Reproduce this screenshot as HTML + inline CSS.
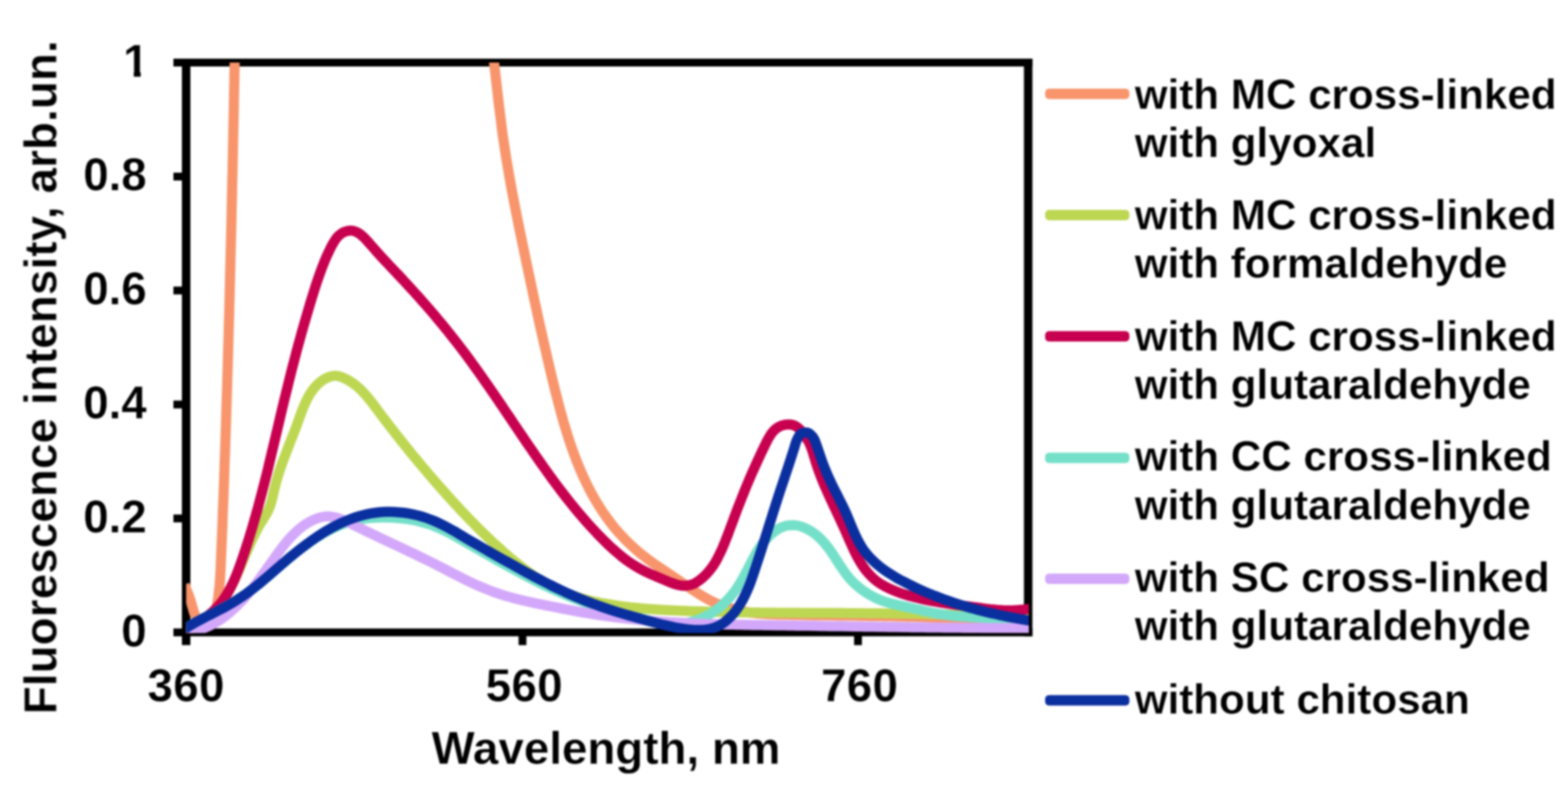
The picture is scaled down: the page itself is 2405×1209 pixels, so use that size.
<!DOCTYPE html>
<html lang="en"><head><meta charset="utf-8"><title>Fluorescence spectra</title>
<style>
html,body{margin:0;padding:0;background:#fff;}
body{width:2405px;height:1209px;overflow:hidden;}
svg{display:block;}
text{font-family:"Liberation Sans",sans-serif;font-weight:700;fill:#000;stroke:#fff;stroke-width:0.4px;paint-order:fill stroke;}
.ax{font-size:70px;}
.lg{font-size:64.7px;}
.c{fill:none;stroke-linejoin:round;stroke-linecap:butt;stroke-width:15.5px;}
.k{fill:none;stroke-linecap:round;stroke-width:16px;}
</style></head><body>
<svg width="2405" height="1209" viewBox="0 0 2405 1209">
<defs><clipPath id="pc"><rect x="285.5" y="96" width="1292.5" height="875.3"/></clipPath>
<clipPath id="one"><path d="M180 50H240V108H215.8V125H205.2V108H180Z"/></clipPath>
<filter id="bl" x="-2%" y="-2%" width="104%" height="104%" color-interpolation-filters="sRGB"><feGaussianBlur stdDeviation="1.8"/></filter></defs>
<rect width="2405" height="1209" fill="#fff"/>
<g filter="url(#bl)">
<g stroke="#000" fill="none" stroke-linecap="butt">
<path stroke-width="12" d="M266 96 H1583.5"/>
<path stroke-width="13" d="M1577 90 V976.3"/>
<path stroke-width="12" d="M266 970.3 H1583.5"/>
<path stroke-width="13" d="M285.5 96 V989.8"/>
<path stroke-width="12" d="M266 795.4 H285.5"/>
<path stroke-width="12" d="M266 620.6 H285.5"/>
<path stroke-width="12" d="M266 445.7 H285.5"/>
<path stroke-width="12" d="M266 270.9 H285.5"/>
<path stroke-width="12" d="M801.4 970.3 V989.8"/>
<path stroke-width="12" d="M1316 970.3 V989.8"/>
</g>
<g clip-path="url(#pc)">
<path class="c" stroke="#F8956C" d="M283.0 897.0 C283.8 898.9 286.2 904.8 287.6 908.5 C289.0 912.2 290.3 915.5 291.6 919.3 C292.9 923.1 293.9 927.4 295.2 931.5 C296.5 935.6 297.5 940.5 299.4 944.2 C301.3 947.9 303.7 951.9 306.7 953.9 C309.7 955.9 314.3 957.2 317.5 956.1 C320.7 955.0 323.6 950.4 325.8 947.0 C328.0 943.6 329.5 939.6 330.8 935.7 C332.1 931.8 332.9 927.7 333.7 923.6 C334.5 919.5 334.9 915.3 335.4 911.2 C335.9 907.1 336.3 903.1 336.7 899.0 C337.1 894.9 337.3 890.9 337.6 886.8 C337.9 882.7 338.1 878.6 338.3 874.5 C338.5 870.4 338.6 866.4 338.8 862.3 C339.0 858.2 339.1 854.2 339.3 850.1 C339.5 846.0 339.6 842.0 339.8 837.9 C340.0 833.8 340.1 829.7 340.3 825.6 C340.5 821.5 340.6 817.5 340.8 813.4 C341.0 809.3 341.2 805.2 341.3 801.1 C341.4 797.0 341.6 793.0 341.7 788.9 C341.8 784.8 342.0 780.7 342.2 776.6 C342.4 772.5 342.5 768.4 342.7 764.3 C342.9 760.2 343.0 756.2 343.1 752.1 C343.2 748.0 343.5 743.9 343.6 739.8 C343.8 735.7 343.9 731.6 344.0 727.5 C344.1 723.4 344.3 719.3 344.4 715.2 C344.5 711.1 344.6 707.0 344.8 702.9 C345.0 698.8 345.2 694.7 345.3 690.6 C345.4 686.5 345.6 682.4 345.7 678.3 C345.8 674.2 346.0 670.2 346.1 666.1 C346.2 662.0 346.4 657.9 346.5 653.8 C346.6 649.7 346.8 645.6 346.9 641.5 C347.0 637.4 347.1 633.3 347.2 629.2 C347.3 625.1 347.5 621.0 347.6 616.9 C347.7 612.8 347.9 608.8 348.0 604.7 C348.1 600.6 348.3 596.5 348.4 592.4 C348.5 588.3 348.6 584.2 348.7 580.1 C348.8 576.0 349.0 571.9 349.1 567.8 C349.2 563.7 349.3 559.7 349.4 555.6 C349.5 551.5 349.7 547.4 349.8 543.3 C349.9 539.2 350.0 535.1 350.1 531.0 C350.2 526.9 350.4 522.8 350.5 518.7 C350.6 514.6 350.7 510.6 350.8 506.5 C350.9 502.4 351.0 498.3 351.1 494.2 C351.2 490.1 351.4 486.0 351.5 481.9 C351.6 477.8 351.7 473.8 351.8 469.7 C351.9 465.6 352.0 461.5 352.1 457.4 C352.2 453.3 352.3 449.2 352.4 445.1 C352.5 441.0 352.6 436.9 352.7 432.8 C352.8 428.7 352.9 424.7 353.0 420.6 C353.1 416.5 353.2 412.4 353.3 408.3 C353.4 404.2 353.5 400.1 353.6 396.0 C353.7 391.9 353.8 387.9 353.9 383.8 C354.0 379.7 354.1 375.6 354.2 371.5 C354.3 367.4 354.4 363.3 354.5 359.2 C354.6 355.1 354.7 351.0 354.8 346.9 C354.9 342.8 355.0 338.8 355.1 334.7 C355.2 330.6 355.2 326.5 355.3 322.4 C355.4 318.3 355.5 314.2 355.6 310.1 C355.7 306.0 355.8 302.0 355.9 297.9 C356.0 293.8 356.0 289.7 356.1 285.6 C356.2 281.5 356.3 277.4 356.4 273.3 C356.5 269.2 356.6 265.1 356.7 261.0 C356.8 256.9 356.8 252.9 356.9 248.8 C357.0 244.7 357.1 240.6 357.2 236.5 C357.3 232.4 357.3 228.3 357.4 224.2 C357.5 220.1 357.6 216.0 357.7 211.9 C357.8 207.8 357.8 203.8 357.9 199.7 C358.0 195.6 358.1 191.5 358.2 187.4 C358.3 183.3 358.3 179.2 358.4 175.1 C358.5 171.0 358.6 166.9 358.7 162.8 C358.8 158.7 358.8 154.7 358.9 150.6 C359.0 146.5 359.0 142.4 359.1 138.3 C359.2 134.2 359.3 130.1 359.4 126.0 C359.5 121.9 359.5 117.8 359.6 113.7 C359.7 109.6 359.7 105.5 359.8 101.4 C359.9 97.3 360.0 93.2 360.1 89.1 C360.2 85.0 360.2 81.0 360.3 76.9 C360.4 72.8 360.4 68.7 360.5 64.6 C360.6 60.5 360.7 56.4 360.8 52.3 C360.9 48.2 361.0 42.0 361.0 40.0"/>
<path class="c" stroke="#F8956C" d="M751.0 40.0 C751.3 42.0 752.1 48.1 752.6 52.1 C753.1 56.1 753.6 60.2 754.1 64.2 C754.6 68.2 755.0 72.2 755.5 76.2 C756.0 80.2 756.4 84.3 756.9 88.3 C757.4 92.3 757.8 96.3 758.3 100.3 C758.8 104.3 759.2 108.4 759.7 112.4 C760.2 116.4 760.5 120.4 761.0 124.4 C761.5 128.4 761.9 132.4 762.4 136.4 C762.9 140.4 763.3 144.5 763.8 148.5 C764.3 152.5 764.7 156.5 765.2 160.5 C765.7 164.5 766.2 168.5 766.7 172.5 C767.2 176.5 767.7 180.5 768.2 184.5 C768.7 188.5 769.2 192.6 769.7 196.6 C770.2 200.6 770.7 204.6 771.3 208.6 C771.9 212.6 772.5 216.6 773.1 220.6 C773.7 224.6 774.3 228.6 774.9 232.6 C775.5 236.6 776.1 240.7 776.8 244.7 C777.4 248.7 778.1 252.7 778.8 256.7 C779.5 260.7 780.2 264.7 780.9 268.7 C781.6 272.7 782.3 276.7 783.0 280.7 C783.7 284.7 784.5 288.8 785.2 292.8 C786.0 296.8 786.7 300.8 787.5 304.8 C788.3 308.8 789.0 312.8 789.8 316.8 C790.6 320.8 791.4 324.7 792.2 328.7 C793.0 332.7 793.8 336.7 794.6 340.7 C795.4 344.7 796.2 348.6 797.0 352.6 C797.8 356.6 798.7 360.6 799.5 364.6 C800.3 368.6 801.2 372.6 802.0 376.5 C802.8 380.4 803.6 384.4 804.4 388.3 C805.2 392.2 806.1 396.2 806.9 400.2 C807.7 404.1 808.6 408.1 809.4 412.0 C810.2 415.9 811.1 419.9 811.9 423.8 C812.7 427.7 813.6 431.7 814.4 435.6 C815.2 439.5 816.1 443.5 816.9 447.4 C817.7 451.3 818.5 455.3 819.4 459.2 C820.2 463.1 821.1 467.0 822.0 470.9 C822.9 474.8 823.6 478.8 824.5 482.7 C825.4 486.6 826.2 490.6 827.1 494.5 C828.0 498.4 828.8 502.3 829.7 506.2 C830.6 510.1 831.5 514.1 832.4 518.0 C833.3 521.9 834.2 525.9 835.1 529.8 C836.0 533.7 836.9 537.7 837.8 541.6 C838.7 545.5 839.6 549.5 840.5 553.4 C841.4 557.3 842.4 561.3 843.3 565.3 C844.2 569.2 845.1 573.1 846.1 577.1 C847.1 581.1 848.0 585.0 849.0 589.0 C850.0 593.0 850.9 596.9 851.9 600.9 C852.9 604.9 854.0 608.8 855.0 612.8 C856.0 616.8 857.1 620.8 858.1 624.7 C859.1 628.7 860.2 632.5 861.3 636.5 C862.4 640.5 863.5 644.5 864.6 648.4 C865.8 652.3 867.0 656.2 868.2 660.1 C869.4 664.0 870.5 667.9 871.8 671.8 C873.0 675.7 874.4 679.5 875.7 683.4 C877.0 687.2 878.4 691.1 879.8 694.9 C881.2 698.7 882.6 702.5 884.1 706.3 C885.6 710.1 887.1 713.8 888.6 717.5 C890.1 721.2 891.8 724.9 893.4 728.6 C895.0 732.3 896.8 735.9 898.5 739.5 C900.2 743.1 902.0 746.7 903.8 750.3 C905.6 753.9 907.5 757.4 909.5 760.9 C911.5 764.4 913.4 767.8 915.5 771.2 C917.6 774.6 919.7 778.0 921.9 781.4 C924.1 784.8 926.3 788.0 928.6 791.3 C930.9 794.6 933.3 797.8 935.7 801.0 C938.1 804.2 940.6 807.3 943.2 810.4 C945.8 813.5 948.5 816.5 951.2 819.5 C953.9 822.5 956.7 825.5 959.6 828.4 C962.5 831.3 965.4 834.1 968.4 836.9 C971.4 839.7 974.4 842.4 977.5 845.1 C980.6 847.8 983.8 850.4 987.0 852.9 C990.2 855.4 993.4 857.9 996.7 860.3 C1000.0 862.7 1003.4 865.1 1006.7 867.4 C1010.0 869.7 1013.4 871.8 1016.7 874.0 C1020.1 876.2 1023.4 878.5 1026.8 880.7 C1030.1 883.0 1033.5 885.2 1036.8 887.5 C1040.1 889.8 1043.5 892.1 1046.8 894.4 C1050.1 896.7 1053.4 899.1 1056.8 901.4 C1060.2 903.7 1063.5 905.9 1066.9 908.1 C1070.3 910.3 1073.7 912.5 1077.2 914.5 C1080.7 916.5 1084.1 918.5 1087.7 920.4 C1091.3 922.2 1094.9 924.0 1098.6 925.6 C1102.3 927.2 1106.0 928.7 1109.8 930.1 C1113.6 931.5 1117.5 932.7 1121.4 933.8 C1125.3 934.9 1129.2 935.8 1133.2 936.7 C1137.2 937.6 1141.2 938.3 1145.2 939.0 C1149.2 939.7 1153.3 940.2 1157.3 940.7 C1161.3 941.2 1165.4 941.5 1169.4 941.8 C1173.4 942.1 1177.5 942.3 1181.5 942.5 C1185.5 942.7 1189.7 942.8 1193.7 942.9 C1197.8 943.0 1201.8 943.0 1205.8 943.1 C1209.8 943.2 1214.0 943.3 1218.0 943.4 C1222.0 943.5 1226.0 943.5 1230.1 943.6 C1234.1 943.7 1238.2 943.7 1242.3 943.8 C1246.3 943.9 1250.4 944.0 1254.4 944.0 C1258.4 944.0 1262.5 944.1 1266.5 944.1 C1270.5 944.1 1274.7 944.2 1278.7 944.3 C1282.8 944.4 1286.8 944.5 1290.8 944.5 C1294.8 944.5 1299.0 944.6 1303.0 944.6 C1307.0 944.6 1311.1 944.7 1315.1 944.8 C1319.1 944.9 1323.2 944.9 1327.2 945.0 C1331.2 945.1 1335.4 945.2 1339.4 945.2 C1343.5 945.2 1347.5 945.2 1351.5 945.3 C1355.5 945.4 1359.7 945.5 1363.7 945.6 C1367.8 945.7 1371.8 945.7 1375.8 945.8 C1379.8 945.9 1383.9 945.9 1387.9 946.0 C1392.0 946.1 1396.0 946.2 1400.1 946.3 C1404.1 946.4 1408.2 946.5 1412.2 946.6 C1416.2 946.7 1420.2 946.8 1424.3 946.9 C1428.3 947.0 1432.5 947.1 1436.5 947.2 C1440.5 947.3 1444.6 947.5 1448.6 947.6 C1452.6 947.7 1456.7 947.9 1460.7 948.0 C1464.7 948.1 1468.8 948.3 1472.8 948.5 C1476.8 948.7 1481.0 948.8 1485.0 949.0 C1489.0 949.2 1493.1 949.4 1497.1 949.6 C1501.1 949.8 1505.2 950.0 1509.2 950.2 C1513.2 950.4 1517.4 950.6 1521.4 950.8 C1525.5 951.0 1529.5 951.2 1533.5 951.5 C1537.5 951.8 1541.6 952.0 1545.6 952.3 C1549.6 952.6 1553.7 952.8 1557.7 953.1 C1561.8 953.4 1565.9 953.7 1569.9 954.0 C1574.0 954.3 1580.0 954.8 1582.0 955.0"/>
<path class="c" stroke="#BDD753" d="M282.9 970.0 C284.9 969.1 291.1 966.8 294.9 964.9 C298.7 963.0 302.3 960.9 305.7 958.7 C309.1 956.5 312.3 954.1 315.4 951.6 C318.5 949.1 321.4 946.5 324.2 943.7 C327.0 940.9 329.6 938.0 332.1 935.0 C334.6 932.0 337.0 928.9 339.3 925.7 C341.6 922.5 343.7 919.2 345.8 915.8 C347.9 912.4 349.8 909.0 351.7 905.5 C353.6 902.0 355.4 898.4 357.2 894.8 C359.0 891.2 360.7 887.5 362.4 883.8 C364.1 880.1 365.8 876.4 367.4 872.6 C369.0 868.9 370.6 865.1 372.2 861.3 C373.8 857.5 375.3 853.7 376.9 849.9 C378.5 846.1 380.1 842.4 381.8 838.7 C383.5 835.0 385.1 831.3 386.8 827.6 C388.5 823.9 390.3 820.3 392.1 816.7 C393.9 813.1 395.8 809.6 397.8 806.2 C399.8 802.8 401.9 799.5 404.0 796.1 C406.1 792.7 408.3 789.5 410.1 786.0 C411.9 782.5 413.4 778.8 414.7 775.0 C416.0 771.2 417.0 767.1 418.0 763.1 C419.0 759.1 419.8 754.9 420.8 750.9 C421.8 746.9 422.7 742.9 423.8 739.0 C424.9 735.1 426.0 731.2 427.2 727.4 C428.4 723.6 429.7 719.8 431.0 716.0 C432.3 712.2 433.6 708.5 435.0 704.8 C436.4 701.1 437.8 697.4 439.2 693.7 C440.6 690.0 442.1 686.3 443.5 682.6 C444.9 678.9 446.4 675.1 447.9 671.4 C449.4 667.6 450.9 663.9 452.3 660.1 C453.8 656.3 455.2 652.4 456.6 648.5 C458.0 644.6 459.4 640.7 460.8 636.8 C462.2 632.9 463.7 628.9 465.3 625.1 C466.9 621.3 468.5 617.4 470.3 613.8 C472.1 610.1 474.0 606.6 476.2 603.2 C478.4 599.8 480.8 596.6 483.4 593.6 C486.0 590.6 488.8 587.9 492.0 585.5 C495.2 583.1 498.7 580.7 502.4 579.2 C506.1 577.7 510.1 576.6 514.0 576.6 C517.9 576.6 522.0 577.8 525.8 579.2 C529.6 580.6 533.3 582.7 536.7 584.8 C540.1 586.9 543.3 589.2 546.4 591.7 C549.5 594.2 552.4 596.9 555.2 599.8 C558.0 602.6 560.7 605.7 563.3 608.8 C565.9 611.9 568.4 615.1 570.9 618.3 C573.4 621.5 575.8 624.8 578.3 628.1 C580.8 631.4 583.1 634.6 585.6 637.9 C588.1 641.1 590.5 644.4 593.0 647.6 C595.5 650.8 598.0 654.1 600.5 657.3 C603.0 660.5 605.5 663.7 608.0 666.9 C610.5 670.1 613.0 673.2 615.5 676.4 C618.0 679.6 620.6 682.8 623.1 685.9 C625.6 689.0 628.2 692.2 630.7 695.3 C633.2 698.4 635.8 701.5 638.4 704.6 C641.0 707.7 643.5 710.8 646.1 713.9 C648.7 717.0 651.3 720.0 653.9 723.1 C656.5 726.2 659.1 729.2 661.7 732.3 C664.3 735.3 667.0 738.4 669.6 741.4 C672.2 744.4 674.9 747.5 677.6 750.5 C680.3 753.5 682.9 756.5 685.6 759.5 C688.3 762.5 690.9 765.4 693.6 768.4 C696.3 771.4 699.1 774.3 701.8 777.3 C704.5 780.2 707.2 783.2 710.0 786.1 C712.8 789.0 715.5 791.9 718.3 794.8 C721.1 797.7 723.9 800.5 726.7 803.4 C729.5 806.3 732.4 809.2 735.2 812.0 C738.1 814.8 740.9 817.6 743.8 820.4 C746.7 823.2 749.6 826.0 752.6 828.8 C755.6 831.6 758.5 834.3 761.5 837.0 C764.5 839.7 767.5 842.5 770.5 845.2 C773.5 847.9 776.6 850.6 779.7 853.2 C782.8 855.8 786.0 858.4 789.1 861.0 C792.2 863.6 795.4 866.1 798.6 868.6 C801.8 871.1 805.1 873.6 808.4 876.0 C811.7 878.4 815.0 880.7 818.3 883.0 C821.6 885.3 825.0 887.5 828.4 889.6 C831.8 891.7 835.3 893.8 838.8 895.8 C842.3 897.8 845.8 899.7 849.4 901.5 C853.0 903.3 856.6 905.1 860.2 906.7 C863.9 908.3 867.5 909.9 871.3 911.3 C875.0 912.7 878.9 914.1 882.7 915.3 C886.5 916.5 890.3 917.6 894.2 918.7 C898.1 919.8 902.0 920.8 905.9 921.7 C909.8 922.6 913.8 923.5 917.8 924.3 C921.8 925.1 925.7 925.8 929.7 926.5 C933.7 927.2 937.7 927.8 941.7 928.4 C945.7 929.0 949.7 929.6 953.7 930.1 C957.7 930.6 961.7 931.2 965.7 931.6 C969.7 932.0 973.7 932.4 977.7 932.8 C981.7 933.2 985.8 933.6 989.8 933.9 C993.8 934.2 997.8 934.5 1001.8 934.8 C1005.8 935.1 1009.9 935.4 1013.9 935.6 C1017.9 935.9 1022.0 936.1 1026.0 936.3 C1030.0 936.5 1034.1 936.6 1038.1 936.8 C1042.1 937.0 1046.1 937.1 1050.1 937.3 C1054.1 937.4 1058.2 937.6 1062.2 937.7 C1066.2 937.8 1070.3 938.0 1074.3 938.1 C1078.3 938.2 1082.4 938.4 1086.4 938.5 C1090.4 938.6 1094.5 938.7 1098.5 938.8 C1102.5 938.9 1106.6 938.9 1110.6 939.0 C1114.6 939.1 1118.7 939.2 1122.7 939.3 C1126.7 939.4 1130.8 939.4 1134.8 939.5 C1138.8 939.6 1142.9 939.7 1146.9 939.7 C1150.9 939.8 1154.9 939.8 1158.9 939.8 C1162.9 939.8 1167.0 939.8 1171.0 939.9 C1175.0 940.0 1179.1 940.0 1183.1 940.1 C1187.1 940.2 1191.2 940.2 1195.2 940.2 C1199.2 940.2 1203.3 940.2 1207.3 940.2 C1211.3 940.2 1215.4 940.3 1219.4 940.3 C1223.4 940.3 1227.5 940.4 1231.5 940.4 C1235.5 940.4 1239.6 940.4 1243.6 940.4 C1247.6 940.4 1251.7 940.5 1255.7 940.5 C1259.7 940.5 1263.8 940.5 1267.8 940.5 C1271.8 940.5 1275.9 940.6 1279.9 940.6 C1283.9 940.6 1288.0 940.6 1292.0 940.6 C1296.0 940.6 1300.1 940.7 1304.1 940.7 C1308.1 940.7 1312.2 940.8 1316.2 940.8 C1320.2 940.8 1324.3 940.9 1328.3 940.9 C1332.3 940.9 1336.3 941.0 1340.3 941.0 C1344.3 941.0 1348.4 941.1 1352.4 941.1 C1356.4 941.1 1360.5 941.2 1364.5 941.2 C1368.5 941.2 1372.6 941.3 1376.6 941.4 C1380.6 941.5 1384.7 941.5 1388.7 941.6 C1392.7 941.7 1396.8 941.7 1400.8 941.8 C1404.8 941.9 1408.9 941.9 1412.9 942.0 C1416.9 942.1 1421.0 942.2 1425.0 942.3 C1429.0 942.4 1433.1 942.5 1437.1 942.6 C1441.1 942.7 1445.1 942.8 1449.1 942.9 C1453.1 943.0 1457.2 943.2 1461.2 943.3 C1465.2 943.4 1469.3 943.6 1473.3 943.7 C1477.3 943.9 1481.4 944.0 1485.4 944.2 C1489.4 944.4 1493.5 944.5 1497.5 944.7 C1501.5 944.9 1505.6 945.1 1509.6 945.3 C1513.6 945.5 1517.6 945.8 1521.6 946.0 C1525.6 946.2 1529.7 946.4 1533.7 946.6 C1537.7 946.8 1541.8 947.1 1545.8 947.4 C1549.8 947.7 1553.9 947.9 1557.9 948.2 C1561.9 948.5 1565.9 948.8 1569.9 949.1 C1573.9 949.4 1580.0 949.9 1582.0 950.0"/>
<path class="c" stroke="#C7004F" d="M283.0 970.0 C284.6 968.9 289.1 965.6 292.3 963.4 C295.5 961.2 298.9 958.9 302.3 956.6 C305.7 954.3 309.2 951.9 312.6 949.4 C316.0 946.9 319.4 944.4 322.5 941.7 C325.6 939.0 328.7 936.3 331.5 933.4 C334.3 930.5 336.9 927.4 339.4 924.3 C341.9 921.1 344.1 917.9 346.3 914.5 C348.5 911.1 350.4 907.7 352.3 904.2 C354.2 900.7 356.0 897.1 357.7 893.5 C359.4 889.9 360.9 886.2 362.4 882.5 C363.9 878.8 365.3 875.0 366.7 871.2 C368.1 867.4 369.5 863.6 370.8 859.8 C372.1 856.0 373.4 852.1 374.7 848.3 C376.0 844.5 377.2 840.6 378.4 836.8 C379.6 833.0 380.9 829.1 382.1 825.3 C383.3 821.4 384.5 817.6 385.6 813.7 C386.8 809.8 387.9 806.0 389.0 802.1 C390.1 798.2 391.2 794.4 392.3 790.5 C393.4 786.6 394.5 782.7 395.6 778.8 C396.7 774.9 397.7 771.1 398.7 767.2 C399.7 763.3 400.8 759.4 401.8 755.5 C402.8 751.6 403.8 747.7 404.8 743.8 C405.8 739.9 406.8 736.0 407.8 732.1 C408.8 728.2 409.8 724.3 410.7 720.4 C411.6 716.5 412.6 712.5 413.5 708.6 C414.4 704.7 415.4 700.8 416.3 696.9 C417.2 693.0 418.2 689.0 419.1 685.1 C420.0 681.2 421.0 677.3 421.9 673.4 C422.8 669.5 423.8 665.5 424.7 661.6 C425.6 657.7 426.6 653.8 427.5 649.9 C428.4 646.0 429.3 642.0 430.2 638.1 C431.1 634.2 432.1 630.3 433.0 626.4 C433.9 622.5 434.9 618.5 435.8 614.6 C436.8 610.7 437.7 606.8 438.7 602.9 C439.7 599.0 440.6 595.1 441.6 591.2 C442.6 587.3 443.5 583.3 444.5 579.4 C445.5 575.5 446.4 571.6 447.4 567.7 C448.4 563.8 449.5 559.9 450.5 556.0 C451.5 552.1 452.5 548.2 453.5 544.3 C454.5 540.4 455.6 536.6 456.6 532.7 C457.7 528.8 458.7 524.9 459.8 521.0 C460.9 517.1 461.9 513.3 463.0 509.4 C464.1 505.5 465.2 501.7 466.3 497.8 C467.4 493.9 468.6 490.1 469.7 486.2 C470.8 482.3 472.0 478.5 473.1 474.6 C474.2 470.8 475.3 467.0 476.5 463.1 C477.7 459.2 478.9 455.4 480.1 451.5 C481.3 447.6 482.5 443.8 483.7 440.0 C484.9 436.2 486.2 432.4 487.5 428.6 C488.8 424.8 490.1 421.0 491.5 417.2 C492.9 413.4 494.3 409.6 495.8 405.9 C497.3 402.1 498.8 398.4 500.4 394.7 C502.0 391.0 503.7 387.3 505.5 383.7 C507.3 380.1 509.1 376.3 511.2 372.9 C513.3 369.4 515.3 365.8 518.1 363.0 C520.9 360.2 524.3 357.4 527.9 355.9 C531.5 354.4 535.9 353.5 539.8 353.9 C543.7 354.3 547.7 356.2 551.1 358.3 C554.5 360.4 557.3 363.5 560.2 366.3 C563.1 369.1 565.6 372.4 568.3 375.4 C571.0 378.4 573.6 381.5 576.3 384.5 C579.0 387.5 581.7 390.5 584.4 393.5 C587.1 396.5 589.9 399.4 592.6 402.3 C595.4 405.2 598.1 408.2 600.9 411.1 C603.7 414.0 606.5 417.0 609.2 419.9 C612.0 422.8 614.7 425.7 617.4 428.6 C620.1 431.5 622.9 434.5 625.6 437.5 C628.3 440.5 631.0 443.4 633.7 446.4 C636.4 449.4 639.1 452.3 641.8 455.3 C644.5 458.3 647.1 461.4 649.8 464.4 C652.5 467.4 655.2 470.5 657.8 473.5 C660.4 476.5 663.0 479.5 665.6 482.6 C668.2 485.7 670.8 488.8 673.4 491.9 C676.0 495.0 678.5 498.1 681.1 501.2 C683.7 504.3 686.2 507.5 688.7 510.6 C691.2 513.8 693.7 516.9 696.2 520.1 C698.7 523.3 701.2 526.4 703.6 529.6 C706.0 532.8 708.5 536.0 710.9 539.2 C713.3 542.4 715.7 545.6 718.1 548.9 C720.5 552.1 722.8 555.4 725.2 558.7 C727.6 562.0 730.0 565.2 732.3 568.5 C734.6 571.8 736.9 575.0 739.2 578.3 C741.5 581.6 743.9 584.9 746.2 588.2 C748.5 591.5 750.7 594.8 753.0 598.1 C755.3 601.4 757.6 604.8 759.9 608.1 C762.2 611.4 764.5 614.8 766.7 618.1 C769.0 621.4 771.1 624.8 773.4 628.1 C775.6 631.4 778.0 634.8 780.2 638.1 C782.5 641.4 784.6 644.8 786.9 648.1 C789.1 651.4 791.4 654.8 793.7 658.1 C796.0 661.5 798.2 664.9 800.5 668.2 C802.8 671.6 804.9 674.9 807.2 678.2 C809.5 681.5 811.8 684.8 814.1 688.1 C816.4 691.4 818.6 694.8 820.9 698.1 C823.2 701.4 825.5 704.7 827.8 708.0 C830.1 711.3 832.5 714.6 834.8 717.9 C837.1 721.2 839.4 724.4 841.8 727.7 C844.1 731.0 846.5 734.2 848.9 737.5 C851.3 740.8 853.7 744.0 856.1 747.2 C858.5 750.4 861.0 753.6 863.4 756.8 C865.8 760.0 868.3 763.1 870.8 766.3 C873.3 769.4 875.8 772.6 878.3 775.7 C880.8 778.8 883.4 782.0 886.0 785.1 C888.6 788.2 891.3 791.2 893.9 794.3 C896.5 797.3 899.1 800.4 901.8 803.4 C904.5 806.4 907.2 809.3 910.0 812.3 C912.8 815.2 915.5 818.2 918.3 821.1 C921.1 824.0 924.0 826.9 926.9 829.8 C929.8 832.6 932.6 835.5 935.6 838.2 C938.6 841.0 941.6 843.6 944.6 846.3 C947.6 848.9 950.8 851.6 953.9 854.1 C957.0 856.6 960.2 859.0 963.5 861.3 C966.8 863.6 970.1 865.8 973.5 867.9 C976.9 870.0 980.4 872.0 983.9 873.9 C987.4 875.8 991.0 877.5 994.6 879.2 C998.2 880.9 1002.0 882.5 1005.7 884.1 C1009.4 885.7 1013.2 887.3 1017.0 888.9 C1020.8 890.5 1024.7 892.3 1028.5 893.7 C1032.3 895.1 1036.2 896.6 1040.0 897.5 C1043.8 898.4 1047.7 899.0 1051.5 898.8 C1055.3 898.6 1059.3 897.8 1063.0 896.2 C1066.7 894.7 1070.5 892.0 1073.9 889.5 C1077.3 887.0 1080.4 884.1 1083.2 881.2 C1086.0 878.3 1088.5 875.2 1090.9 872.1 C1093.3 869.0 1095.4 865.7 1097.4 862.3 C1099.4 858.9 1101.1 855.3 1102.9 851.8 C1104.7 848.2 1106.4 844.7 1108.0 841.0 C1109.6 837.3 1111.1 833.6 1112.6 829.8 C1114.1 826.0 1115.6 822.2 1117.1 818.4 C1118.5 814.6 1119.9 810.7 1121.3 806.9 C1122.7 803.1 1124.2 799.3 1125.6 795.5 C1127.0 791.7 1128.4 787.9 1129.8 784.1 C1131.2 780.3 1132.7 776.6 1134.2 772.9 C1135.7 769.2 1137.1 765.4 1138.6 761.7 C1140.1 758.0 1141.5 754.3 1143.0 750.6 C1144.5 746.9 1146.0 743.2 1147.6 739.5 C1149.1 735.8 1150.7 732.2 1152.3 728.5 C1153.9 724.8 1155.5 721.2 1157.2 717.5 C1158.9 713.8 1160.5 710.2 1162.2 706.5 C1163.9 702.8 1165.6 699.2 1167.3 695.5 C1169.0 691.8 1170.8 688.2 1172.6 684.5 C1174.4 680.8 1176.2 676.9 1178.2 673.4 C1180.2 669.9 1182.2 666.3 1184.7 663.3 C1187.2 660.3 1190.0 657.5 1193.4 655.5 C1196.8 653.5 1200.9 652.0 1204.9 651.5 C1208.9 651.0 1213.5 651.1 1217.2 652.3 C1220.9 653.5 1224.1 656.1 1227.0 658.8 C1229.9 661.5 1232.1 665.3 1234.4 668.6 C1236.7 671.9 1239.0 675.2 1240.8 678.8 C1242.6 682.4 1244.0 686.2 1245.4 690.0 C1246.8 693.8 1247.8 697.8 1249.0 701.7 C1250.2 705.6 1251.3 709.5 1252.6 713.4 C1253.9 717.2 1255.2 721.0 1256.6 724.8 C1258.0 728.6 1259.4 732.3 1260.9 736.0 C1262.4 739.7 1263.9 743.4 1265.5 747.0 C1267.1 750.6 1268.7 754.3 1270.3 757.9 C1271.9 761.5 1273.6 765.2 1275.3 768.8 C1277.0 772.4 1278.7 776.0 1280.4 779.6 C1282.1 783.2 1283.8 786.9 1285.5 790.5 C1287.2 794.1 1288.9 797.7 1290.6 801.4 C1292.3 805.1 1294.0 808.8 1295.7 812.5 C1297.4 816.2 1298.9 820.0 1300.6 823.8 C1302.2 827.6 1303.9 831.4 1305.6 835.1 C1307.3 838.9 1309.0 842.6 1310.8 846.3 C1312.6 850.0 1314.4 853.6 1316.4 857.1 C1318.4 860.6 1320.4 864.1 1322.6 867.4 C1324.8 870.7 1327.0 873.9 1329.5 876.9 C1332.0 879.9 1334.7 882.8 1337.5 885.5 C1340.3 888.2 1343.3 890.7 1346.5 893.0 C1349.7 895.3 1353.2 897.3 1356.7 899.3 C1360.2 901.2 1364.0 903.1 1367.7 904.7 C1371.5 906.4 1375.3 907.8 1379.2 909.2 C1383.1 910.6 1387.1 911.8 1391.0 913.0 C1394.9 914.2 1398.9 915.3 1402.8 916.3 C1406.7 917.3 1410.7 918.2 1414.6 919.1 C1418.5 920.0 1422.5 920.8 1426.4 921.5 C1430.3 922.2 1434.2 922.9 1438.2 923.6 C1442.2 924.3 1446.1 924.9 1450.1 925.5 C1454.0 926.1 1458.0 926.7 1461.9 927.2 C1465.9 927.8 1469.8 928.3 1473.8 928.8 C1477.8 929.3 1481.7 929.9 1485.7 930.4 C1489.7 930.9 1493.7 931.5 1497.7 932.0 C1501.7 932.5 1505.7 933.1 1509.7 933.6 C1513.7 934.1 1517.7 934.6 1521.7 935.0 C1525.7 935.4 1529.7 935.8 1533.7 936.0 C1537.7 936.2 1541.8 936.5 1545.8 936.5 C1549.8 936.5 1553.9 936.5 1557.9 936.3 C1561.9 936.1 1565.9 935.6 1569.9 935.2 C1573.9 934.8 1580.0 934.1 1582.0 933.9"/>
<path class="c" stroke="#75E0C9" d="M283.0 965.0 C284.7 964.0 289.8 960.8 293.3 958.8 C296.8 956.8 300.2 954.8 303.8 952.9 C307.4 951.0 311.0 949.1 314.6 947.2 C318.2 945.3 321.8 943.5 325.4 941.6 C329.0 939.7 332.7 937.9 336.3 936.0 C339.9 934.1 343.5 932.2 347.0 930.2 C350.5 928.2 354.0 926.2 357.5 924.1 C361.0 922.0 364.4 919.8 367.8 917.6 C371.2 915.4 374.4 913.1 377.7 910.7 C381.0 908.4 384.2 905.9 387.4 903.5 C390.6 901.1 393.7 898.6 396.8 896.1 C399.9 893.6 403.1 891.0 406.2 888.4 C409.3 885.8 412.3 883.2 415.4 880.6 C418.5 878.0 421.5 875.4 424.6 872.7 C427.7 870.1 430.7 867.3 433.8 864.7 C436.9 862.1 440.0 859.5 443.1 856.9 C446.2 854.3 449.4 851.7 452.6 849.1 C455.8 846.5 458.9 844.0 462.1 841.5 C465.3 839.0 468.6 836.6 471.9 834.2 C475.2 831.8 478.5 829.5 481.9 827.2 C485.3 825.0 488.7 822.8 492.1 820.7 C495.5 818.6 499.0 816.6 502.5 814.7 C506.0 812.8 509.6 811.1 513.2 809.4 C516.8 807.7 520.5 806.1 524.2 804.7 C527.9 803.3 531.8 801.9 535.6 800.8 C539.4 799.6 543.3 798.6 547.2 797.8 C551.1 797.0 555.2 796.3 559.2 795.8 C563.2 795.2 567.3 794.8 571.4 794.5 C575.5 794.2 579.7 794.1 583.8 794.0 C587.9 793.9 592.0 794.0 596.1 794.1 C600.2 794.2 604.3 794.4 608.3 794.7 C612.3 795.0 616.3 795.4 620.3 795.9 C624.3 796.4 628.3 797.0 632.2 797.7 C636.1 798.4 640.0 799.2 643.9 800.2 C647.8 801.2 651.6 802.2 655.4 803.4 C659.2 804.6 663.0 806.0 666.7 807.5 C670.4 809.0 674.1 810.6 677.8 812.3 C681.5 814.0 685.1 815.8 688.7 817.6 C692.3 819.5 695.8 821.4 699.4 823.4 C703.0 825.4 706.5 827.5 710.1 829.5 C713.7 831.5 717.2 833.6 720.7 835.6 C724.2 837.6 727.9 839.7 731.4 841.7 C734.9 843.7 738.5 845.8 742.0 847.8 C745.5 849.8 749.1 851.9 752.6 853.9 C756.1 855.9 759.7 857.9 763.2 859.9 C766.7 861.9 770.2 863.8 773.8 865.8 C777.3 867.8 780.9 869.8 784.5 871.7 C788.1 873.7 791.6 875.6 795.2 877.5 C798.8 879.4 802.3 881.3 805.9 883.2 C809.5 885.1 813.0 887.0 816.6 888.8 C820.2 890.6 823.9 892.4 827.5 894.2 C831.1 896.0 834.7 897.8 838.3 899.5 C841.9 901.2 845.6 902.9 849.3 904.6 C853.0 906.3 856.6 908.0 860.3 909.6 C864.0 911.2 867.7 912.8 871.4 914.3 C875.1 915.8 878.8 917.3 882.5 918.8 C886.2 920.3 890.0 921.7 893.8 923.1 C897.6 924.5 901.4 925.8 905.2 927.1 C909.0 928.4 912.9 929.7 916.7 930.9 C920.6 932.1 924.4 933.2 928.3 934.4 C932.2 935.5 936.0 936.7 939.9 937.8 C943.8 938.9 947.8 940.0 951.7 941.0 C955.6 942.0 959.6 943.0 963.5 944.0 C967.4 945.0 971.3 946.0 975.3 947.0 C979.2 948.0 983.2 949.0 987.2 950.0 C991.2 951.0 995.0 951.9 999.0 952.8 C1003.0 953.7 1007.0 954.6 1011.0 955.3 C1015.0 956.0 1018.9 956.5 1022.9 956.9 C1026.9 957.2 1031.0 957.4 1035.0 957.4 C1039.0 957.4 1043.1 957.1 1047.1 956.6 C1051.1 956.1 1055.1 955.4 1059.0 954.4 C1062.9 953.4 1066.8 952.3 1070.6 950.9 C1074.4 949.5 1078.1 947.9 1081.7 946.1 C1085.3 944.3 1088.8 942.4 1092.2 940.2 C1095.6 938.0 1098.8 935.6 1102.0 933.1 C1105.2 930.6 1108.2 927.9 1111.1 925.1 C1114.0 922.3 1116.8 919.4 1119.5 916.3 C1122.2 913.2 1124.8 910.0 1127.2 906.7 C1129.6 903.4 1131.8 900.0 1134.0 896.6 C1136.2 893.2 1138.1 889.7 1140.1 886.1 C1142.1 882.5 1143.9 878.9 1145.8 875.3 C1147.7 871.7 1149.4 868.0 1151.3 864.4 C1153.2 860.8 1155.1 857.2 1157.1 853.7 C1159.1 850.2 1161.0 846.7 1163.2 843.3 C1165.4 839.9 1167.6 836.5 1170.1 833.3 C1172.6 830.1 1175.2 827.0 1178.1 824.1 C1181.0 821.2 1184.1 818.3 1187.3 815.9 C1190.5 813.5 1193.9 811.3 1197.5 809.7 C1201.1 808.1 1204.9 806.8 1208.7 806.2 C1212.5 805.6 1216.6 805.5 1220.5 805.9 C1224.4 806.3 1228.2 807.5 1232.0 808.9 C1235.8 810.3 1239.5 812.2 1243.0 814.3 C1246.5 816.4 1249.9 819.0 1253.1 821.7 C1256.3 824.4 1259.3 827.4 1262.1 830.4 C1264.9 833.4 1267.4 836.6 1269.9 839.8 C1272.4 843.0 1274.7 846.4 1277.0 849.7 C1279.3 853.1 1281.4 856.5 1283.6 859.9 C1285.8 863.3 1288.0 866.7 1290.2 870.0 C1292.5 873.3 1294.7 876.6 1297.1 879.8 C1299.5 883.0 1301.9 886.1 1304.6 889.1 C1307.3 892.1 1310.1 894.9 1313.1 897.6 C1316.1 900.3 1319.2 902.8 1322.5 905.2 C1325.8 907.6 1329.1 909.8 1332.6 911.9 C1336.1 914.0 1339.6 915.9 1343.3 917.6 C1347.0 919.3 1350.8 920.9 1354.6 922.3 C1358.4 923.7 1362.3 924.8 1366.2 925.8 C1370.1 926.8 1374.0 927.7 1378.0 928.6 C1382.0 929.5 1386.0 930.2 1389.9 931.1 C1393.9 932.0 1397.8 932.9 1401.7 933.8 C1405.6 934.7 1409.5 935.6 1413.5 936.5 C1417.5 937.4 1421.5 938.4 1425.4 939.2 C1429.4 940.0 1433.2 940.8 1437.2 941.5 C1441.2 942.2 1445.2 942.8 1449.2 943.3 C1453.2 943.8 1457.2 944.3 1461.2 944.7 C1465.2 945.1 1469.2 945.4 1473.2 945.7 C1477.2 946.0 1481.4 946.2 1485.4 946.5 C1489.5 946.8 1493.5 947.0 1497.5 947.2 C1501.5 947.4 1505.6 947.7 1509.6 947.9 C1513.6 948.1 1517.7 948.4 1521.7 948.6 C1525.7 948.9 1529.8 949.1 1533.8 949.4 C1537.8 949.7 1541.9 950.0 1545.9 950.4 C1549.9 950.8 1554.0 951.1 1558.0 951.6 C1562.0 952.1 1566.0 952.6 1570.0 953.2 C1574.0 953.8 1580.0 954.7 1582.0 955.0"/>
<path class="c" stroke="#D3A8FA" d="M283.0 970.0 C285.0 969.8 291.2 969.3 295.2 968.6 C299.2 967.9 303.1 966.9 307.0 965.7 C310.9 964.5 314.6 963.0 318.3 961.4 C322.0 959.8 325.6 958.0 329.1 956.0 C332.6 954.0 336.1 951.8 339.5 949.5 C342.9 947.2 346.1 944.8 349.3 942.2 C352.5 939.7 355.6 937.0 358.6 934.2 C361.6 931.5 364.5 928.6 367.3 925.7 C370.1 922.8 372.9 919.8 375.6 916.8 C378.3 913.8 380.9 910.6 383.5 907.4 C386.1 904.2 388.5 901.0 391.0 897.8 C393.5 894.6 395.9 891.3 398.3 888.0 C400.7 884.7 403.0 881.4 405.4 878.1 C407.8 874.8 410.1 871.4 412.5 868.1 C414.9 864.8 417.1 861.5 419.5 858.2 C421.9 854.9 424.2 851.5 426.6 848.3 C429.0 845.0 431.4 841.9 433.8 838.7 C436.2 835.5 438.7 832.3 441.3 829.3 C443.9 826.2 446.6 823.3 449.5 820.4 C452.4 817.5 455.2 814.8 458.4 812.1 C461.5 809.5 464.9 806.8 468.4 804.5 C471.9 802.2 475.6 800.0 479.4 798.2 C483.2 796.4 487.1 794.9 491.0 793.9 C494.9 792.9 499.0 792.2 502.9 792.2 C506.8 792.2 510.7 792.9 514.6 793.8 C518.5 794.7 522.4 796.2 526.2 797.8 C530.0 799.3 533.9 801.3 537.6 803.1 C541.4 804.9 545.0 806.8 548.7 808.6 C552.4 810.4 556.1 812.2 559.7 814.0 C563.4 815.8 567.0 817.5 570.6 819.2 C574.2 820.9 577.8 822.7 581.4 824.4 C585.0 826.1 588.6 827.8 592.2 829.5 C595.8 831.2 599.5 833.0 603.2 834.7 C606.9 836.4 610.5 838.1 614.2 839.8 C617.9 841.5 621.5 843.4 625.2 845.1 C628.9 846.9 632.6 848.5 636.3 850.3 C640.0 852.1 643.6 853.9 647.3 855.7 C651.0 857.5 654.7 859.3 658.4 861.1 C662.1 862.9 665.7 864.8 669.3 866.6 C672.9 868.5 676.6 870.3 680.2 872.2 C683.8 874.1 687.4 876.0 691.0 877.9 C694.6 879.8 698.3 881.6 701.9 883.4 C705.5 885.2 709.1 887.1 712.7 888.9 C716.3 890.7 720.0 892.5 723.7 894.2 C727.4 895.9 731.0 897.6 734.7 899.2 C738.4 900.8 742.1 902.4 745.9 903.9 C749.6 905.4 753.4 906.8 757.2 908.2 C761.0 909.6 764.9 910.9 768.7 912.1 C772.6 913.3 776.4 914.5 780.3 915.6 C784.2 916.7 788.1 917.8 792.1 918.8 C796.1 919.8 800.1 920.8 804.1 921.7 C808.1 922.6 812.0 923.5 816.0 924.4 C820.0 925.3 824.1 926.1 828.1 926.9 C832.1 927.7 836.1 928.5 840.1 929.3 C844.1 930.1 848.1 930.9 852.1 931.7 C856.1 932.5 860.1 933.3 864.1 934.1 C868.1 934.9 872.0 935.6 876.0 936.4 C880.0 937.1 884.0 937.9 888.0 938.6 C892.0 939.3 896.0 940.0 900.0 940.7 C904.0 941.4 908.0 942.0 912.0 942.6 C916.0 943.2 920.0 943.8 924.0 944.4 C928.0 945.0 932.1 945.6 936.1 946.1 C940.1 946.6 944.1 947.1 948.1 947.6 C952.1 948.1 956.2 948.6 960.2 949.0 C964.2 949.4 968.3 949.8 972.3 950.2 C976.3 950.6 980.3 951.0 984.4 951.4 C988.5 951.8 992.5 952.1 996.6 952.4 C1000.7 952.7 1004.7 953.1 1008.7 953.4 C1012.8 953.7 1016.9 953.9 1020.9 954.2 C1025.0 954.5 1029.0 954.8 1033.0 955.0 C1037.0 955.2 1041.1 955.4 1045.2 955.6 C1049.3 955.8 1053.3 956.0 1057.4 956.2 C1061.5 956.4 1065.5 956.5 1069.6 956.7 C1073.7 956.9 1077.7 957.1 1081.8 957.2 C1085.9 957.4 1089.9 957.5 1094.0 957.6 C1098.1 957.7 1102.1 957.8 1106.2 957.9 C1110.3 958.0 1114.4 958.1 1118.5 958.2 C1122.6 958.3 1126.6 958.4 1130.7 958.5 C1134.8 958.6 1138.8 958.6 1142.9 958.7 C1147.0 958.8 1151.0 958.8 1155.1 958.9 C1159.2 959.0 1163.2 959.0 1167.3 959.1 C1171.4 959.2 1175.5 959.2 1179.6 959.3 C1183.7 959.3 1187.7 959.3 1191.8 959.4 C1195.9 959.5 1199.9 959.5 1204.0 959.6 C1208.1 959.7 1212.1 959.7 1216.2 959.8 C1220.3 959.9 1224.3 960.0 1228.4 960.0 C1232.5 960.0 1236.5 960.1 1240.6 960.1 C1244.7 960.1 1248.7 960.2 1252.8 960.3 C1256.9 960.4 1260.9 960.4 1265.0 960.5 C1269.1 960.6 1273.1 960.7 1277.2 960.7 C1281.3 960.8 1285.4 960.8 1289.4 960.8 C1293.5 960.8 1297.5 960.9 1301.5 961.0 C1305.5 961.1 1309.6 961.1 1313.7 961.2 C1317.8 961.3 1321.8 961.3 1325.9 961.4 C1330.0 961.5 1334.0 961.5 1338.1 961.6 C1342.2 961.7 1346.2 961.7 1350.3 961.7 C1354.3 961.8 1358.4 961.8 1362.4 961.9 C1366.5 962.0 1370.5 962.0 1374.6 962.1 C1378.7 962.2 1382.7 962.2 1386.8 962.2 C1390.9 962.2 1395.0 962.4 1399.0 962.4 C1403.0 962.4 1407.0 962.5 1411.1 962.5 C1415.1 962.5 1419.2 962.7 1423.3 962.7 C1427.4 962.8 1431.4 962.8 1435.5 962.8 C1439.6 962.8 1443.6 962.9 1447.7 962.9 C1451.8 962.9 1455.8 963.0 1459.9 963.0 C1464.0 963.0 1468.0 963.1 1472.1 963.1 C1476.2 963.1 1480.2 963.2 1484.3 963.2 C1488.4 963.2 1492.4 963.3 1496.5 963.3 C1500.6 963.3 1504.6 963.4 1508.7 963.4 C1512.8 963.4 1516.8 963.4 1520.9 963.4 C1525.0 963.4 1529.0 963.5 1533.1 963.5 C1537.2 963.5 1541.2 963.5 1545.3 963.5 C1549.4 963.5 1553.4 963.5 1557.5 963.5 C1561.6 963.5 1565.7 963.5 1569.8 963.5 C1573.9 963.5 1580.0 963.5 1582.0 963.5"/>
<path class="c" stroke="#0A2F9F" d="M283.0 965.0 C284.7 964.0 289.7 960.8 293.1 958.8 C296.6 956.8 300.1 954.8 303.7 952.9 C307.3 951.0 310.9 949.1 314.5 947.2 C318.1 945.3 321.8 943.5 325.4 941.6 C329.0 939.7 332.7 937.9 336.3 936.0 C339.9 934.1 343.6 932.2 347.2 930.2 C350.8 928.2 354.3 926.2 357.8 924.1 C361.3 922.0 364.6 919.8 368.0 917.6 C371.4 915.4 374.6 913.1 377.9 910.8 C381.1 908.5 384.3 906.0 387.5 903.6 C390.7 901.2 393.8 898.6 396.9 896.1 C400.0 893.6 403.1 891.0 406.1 888.4 C409.2 885.8 412.2 883.2 415.2 880.6 C418.2 878.0 421.2 875.4 424.3 872.7 C427.4 870.1 430.4 867.4 433.5 864.7 C436.6 862.1 439.6 859.4 442.7 856.8 C445.8 854.2 449.0 851.6 452.2 849.0 C455.4 846.4 458.6 843.9 461.8 841.4 C465.0 838.9 468.3 836.3 471.6 833.9 C474.9 831.5 478.2 829.1 481.6 826.8 C485.0 824.5 488.4 822.2 491.8 820.0 C495.2 817.8 498.7 815.6 502.2 813.6 C505.7 811.6 509.2 809.6 512.8 807.7 C516.4 805.8 520.1 804.0 523.7 802.3 C527.4 800.6 531.0 799.1 534.7 797.6 C538.4 796.1 542.1 794.7 545.9 793.5 C549.7 792.3 553.5 791.2 557.4 790.2 C561.3 789.2 565.2 788.4 569.1 787.7 C573.0 787.0 577.0 786.4 581.0 786.0 C585.0 785.6 589.1 785.4 593.1 785.3 C597.1 785.2 601.2 785.2 605.3 785.4 C609.4 785.6 613.5 786.0 617.5 786.5 C621.5 787.0 625.6 787.5 629.6 788.3 C633.6 789.0 637.6 790.0 641.6 791.0 C645.6 792.0 649.5 793.2 653.4 794.5 C657.2 795.8 661.0 797.3 664.7 798.8 C668.4 800.3 672.1 802.0 675.7 803.7 C679.3 805.4 682.9 807.3 686.4 809.2 C689.9 811.1 693.4 813.1 696.9 815.1 C700.4 817.1 703.8 819.2 707.2 821.2 C710.7 823.2 714.1 825.4 717.6 827.4 C721.1 829.4 724.6 831.5 728.1 833.5 C731.6 835.5 735.1 837.6 738.6 839.6 C742.1 841.6 745.7 843.7 749.2 845.7 C752.7 847.7 756.2 849.7 759.7 851.7 C763.2 853.7 766.8 855.7 770.3 857.7 C773.8 859.7 777.5 861.6 781.0 863.6 C784.5 865.6 788.1 867.5 791.6 869.5 C795.1 871.5 798.7 873.4 802.2 875.4 C805.8 877.4 809.3 879.3 812.9 881.2 C816.5 883.1 820.0 885.0 823.6 886.9 C827.2 888.8 830.7 890.6 834.3 892.5 C837.9 894.4 841.5 896.2 845.1 898.0 C848.7 899.8 852.4 901.5 856.0 903.3 C859.6 905.0 863.2 906.8 866.9 908.5 C870.5 910.2 874.2 911.8 877.9 913.4 C881.6 915.0 885.4 916.6 889.1 918.2 C892.8 919.8 896.5 921.3 900.3 922.8 C904.1 924.3 907.9 925.7 911.7 927.1 C915.5 928.5 919.3 929.9 923.1 931.2 C926.9 932.5 930.8 933.8 934.7 935.1 C938.6 936.4 942.4 937.6 946.3 938.8 C950.2 940.0 954.1 941.1 958.0 942.3 C961.9 943.4 965.7 944.6 969.6 945.7 C973.5 946.8 977.4 947.9 981.3 949.0 C985.2 950.1 988.9 951.2 992.8 952.2 C996.6 953.2 1000.5 954.3 1004.4 955.3 C1008.3 956.3 1012.2 957.4 1016.1 958.3 C1020.0 959.2 1023.8 960.1 1027.8 960.9 C1031.8 961.7 1035.8 962.6 1039.8 963.3 C1043.8 964.0 1047.9 964.7 1052.0 965.2 C1056.1 965.7 1060.3 966.2 1064.4 966.4 C1068.5 966.6 1072.7 966.7 1076.7 966.5 C1080.7 966.3 1084.7 965.9 1088.6 965.0 C1092.5 964.1 1096.3 963.0 1099.9 961.4 C1103.5 959.8 1107.1 957.7 1110.4 955.3 C1113.7 952.9 1116.8 950.0 1119.7 947.1 C1122.6 944.2 1125.3 941.1 1127.8 937.9 C1130.3 934.7 1132.6 931.4 1134.7 928.0 C1136.8 924.6 1138.8 921.1 1140.6 917.6 C1142.4 914.1 1144.2 910.4 1145.8 906.7 C1147.4 903.0 1149.0 899.3 1150.4 895.5 C1151.9 891.7 1153.2 887.8 1154.5 884.0 C1155.8 880.2 1157.1 876.4 1158.4 872.5 C1159.7 868.6 1160.9 864.8 1162.2 860.9 C1163.5 857.0 1164.8 853.2 1166.0 849.3 C1167.2 845.4 1168.5 841.6 1169.7 837.7 C1170.9 833.8 1172.2 830.0 1173.4 826.1 C1174.6 822.2 1175.8 818.4 1177.0 814.5 C1178.2 810.6 1179.4 806.9 1180.6 803.0 C1181.8 799.1 1183.1 795.2 1184.3 791.4 C1185.5 787.5 1186.7 783.7 1187.9 779.9 C1189.1 776.1 1190.4 772.3 1191.6 768.5 C1192.8 764.7 1194.0 760.8 1195.3 757.0 C1196.5 753.2 1197.8 749.4 1199.1 745.6 C1200.4 741.8 1201.6 738.0 1202.9 734.2 C1204.2 730.4 1205.4 726.5 1206.7 722.7 C1208.0 718.9 1209.2 715.1 1210.5 711.2 C1211.8 707.3 1213.0 703.4 1214.3 699.5 C1215.6 695.6 1216.8 691.7 1218.1 687.7 C1219.4 683.7 1220.2 679.3 1221.9 675.7 C1223.6 672.1 1225.2 667.9 1228.1 665.9 C1231.0 663.9 1235.8 662.8 1239.1 663.8 C1242.4 664.8 1245.5 668.5 1247.8 671.9 C1250.1 675.3 1251.3 680.1 1252.8 684.0 C1254.3 687.9 1255.4 691.6 1256.7 695.3 C1258.0 699.0 1259.2 702.6 1260.5 706.4 C1261.8 710.1 1263.3 714.0 1264.8 717.8 C1266.3 721.6 1267.9 725.4 1269.5 729.1 C1271.1 732.8 1272.9 736.6 1274.6 740.2 C1276.3 743.8 1278.0 747.3 1279.8 750.9 C1281.6 754.5 1283.4 758.0 1285.2 761.6 C1287.0 765.2 1288.8 768.7 1290.6 772.3 C1292.4 775.9 1294.1 779.4 1295.8 783.1 C1297.5 786.8 1299.1 790.5 1300.7 794.3 C1302.3 798.1 1303.9 802.0 1305.5 805.9 C1307.1 809.8 1308.7 813.6 1310.4 817.4 C1312.1 821.2 1313.8 825.0 1315.7 828.6 C1317.6 832.2 1319.6 835.8 1321.7 839.2 C1323.8 842.6 1326.1 845.8 1328.6 848.9 C1331.1 852.0 1333.7 855.0 1336.5 857.8 C1339.3 860.6 1342.2 863.3 1345.2 865.9 C1348.2 868.5 1351.4 870.9 1354.6 873.3 C1357.8 875.7 1361.2 877.9 1364.6 880.1 C1368.0 882.3 1371.5 884.4 1375.0 886.4 C1378.5 888.4 1382.1 890.3 1385.7 892.2 C1389.3 894.1 1393.0 896.0 1396.6 897.8 C1400.2 899.6 1403.8 901.3 1407.5 903.0 C1411.2 904.7 1415.0 906.4 1418.7 908.0 C1422.4 909.6 1426.2 911.1 1429.9 912.6 C1433.7 914.1 1437.4 915.7 1441.2 917.1 C1445.0 918.5 1448.8 919.9 1452.6 921.2 C1456.4 922.5 1460.2 923.8 1464.0 925.1 C1467.8 926.4 1471.7 927.6 1475.6 928.8 C1479.5 930.0 1483.3 931.1 1487.2 932.2 C1491.1 933.3 1495.0 934.5 1498.9 935.5 C1502.8 936.5 1506.8 937.5 1510.7 938.5 C1514.6 939.5 1518.6 940.4 1522.5 941.3 C1526.4 942.2 1530.3 943.1 1534.3 943.9 C1538.2 944.7 1542.2 945.5 1546.2 946.3 C1550.2 947.1 1554.1 947.8 1558.1 948.5 C1562.1 949.2 1566.0 949.9 1570.0 950.6 C1574.0 951.3 1580.0 952.2 1582.0 952.5"/>
</g>
<text class="ax" x="228" y="117.5" text-anchor="end" clip-path="url(#one)">1</text>
<text class="ax" x="225" y="292.4" text-anchor="end">0.8</text>
<text class="ax" x="225" y="467.2" text-anchor="end">0.6</text>
<text class="ax" x="225" y="642.1" text-anchor="end">0.4</text>
<text class="ax" x="225" y="816.9" text-anchor="end">0.2</text>
<text class="ax" x="225" y="991.8" text-anchor="end">0</text>
<text class="ax" x="285.6" y="1075.5" text-anchor="middle" letter-spacing="0.6">360</text>
<text class="ax" x="804.3" y="1075.5" text-anchor="middle" letter-spacing="0.6">560</text>
<text class="ax" x="1318.5" y="1075.5" text-anchor="middle" letter-spacing="0.6">760</text>
<text class="ax" x="929.5" y="1172" text-anchor="middle" textLength="535" lengthAdjust="spacing">Wavelength, nm</text>
<text class="ax" transform="translate(86.5 578.8) rotate(-90)" text-anchor="middle" textLength="1034" lengthAdjust="spacing">Fluorescence intensity, arb.un.</text>
<rect x="1603" y="136" width="129.3" height="16" rx="6" ry="6" fill="#F8956C"/>
<text class="lg" x="1740.5" y="166.5">with MC cross-linked</text>
<text class="lg" x="1740.5" y="240.5">with glyoxal</text>
<rect x="1603" y="322" width="129.3" height="16" rx="6" ry="6" fill="#BDD753"/>
<text class="lg" x="1740.5" y="352.3">with MC cross-linked</text>
<text class="lg" x="1740.5" y="426.3">with formaldehyde</text>
<rect x="1603" y="508" width="129.3" height="16" rx="6" ry="6" fill="#C7004F"/>
<text class="lg" x="1740.5" y="538.2">with MC cross-linked</text>
<text class="lg" x="1740.5" y="611.6">with glutaraldehyde</text>
<rect x="1603" y="694.5" width="129.3" height="16" rx="6" ry="6" fill="#75E0C9"/>
<text class="lg" x="1740.5" y="722.3">with CC cross-linked</text>
<text class="lg" x="1740.5" y="797.2">with glutaraldehyde</text>
<rect x="1603" y="880" width="129.3" height="16" rx="6" ry="6" fill="#D3A8FA"/>
<text class="lg" x="1740.5" y="908.0">with SC cross-linked</text>
<text class="lg" x="1740.5" y="982.2">with glutaraldehyde</text>
<rect x="1603" y="1066.4" width="129.3" height="16" rx="6" ry="6" fill="#0A2F9F"/>
<text class="lg" x="1740.5" y="1094.8">without chitosan</text>
</g>
</svg>
</body></html>
